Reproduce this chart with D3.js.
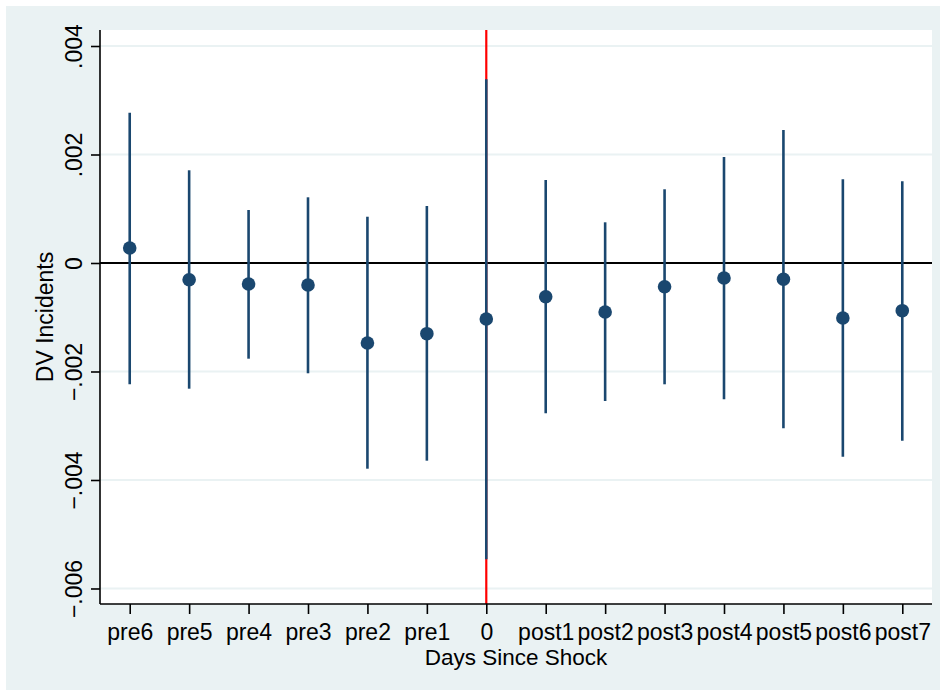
<!DOCTYPE html>
<html>
<head>
  <meta charset="UTF-8">
  <title>DV Incidents - Days Since Shock</title>
  <script src="https://d3js.org/d3.v7.min.js"></script>
  <style>
    body { margin: 0; background: #ffffff; }
    text { font-family: "Liberation Sans", Arial, sans-serif; fill: #000; }
  </style>
</head>
<body>
  <div id="chart"></div>
  <script>

    // Data (values in raw units)
    const days  = ["pre6","pre5","pre4","pre3","pre2","pre1","0",
                   "post1","post2","post3","post4","post5","post6","post7"];
    const coef  = [ 0.000276,-0.000308,-0.000387,-0.000406,-0.001475,-0.001303,-0.001032,
                   -0.000621,-0.000903,-0.000437,-0.000276,-0.000300,-0.001014,-0.000879];
    const upper = [ 0.002770, 0.001709, 0.000977, 0.001211, 0.000853, 0.001051, 0.003386,
                    0.001530, 0.000750, 0.001359, 0.001954, 0.002452, 0.001543, 0.001506];
    const lower = [-0.002236,-0.002317,-0.001764,-0.002033,-0.003792,-0.003644,-0.005462,
                   -0.002770,-0.002544,-0.002236,-0.002512,-0.003047,-0.003571,-0.003276];
    const yTicks = [0.004, 0.002, 0, -0.002, -0.004, -0.006];
    const shockDay = "0";

    const W = 945, H = 695;
    const plot = {left: 100, right: 932, top: 30, bottom: 604};
    const navy = "#1a476f", grid = "#eaf2f3";

    const svg = d3.select("#chart").append("svg")
          .attr("width", W).attr("height", H);

    // outer graph region + white plot region
    svg.append("rect").attr("x", 6).attr("y", 6).attr("width", 934).attr("height", 684)
       .attr("fill", grid);
    svg.append("rect").attr("x", plot.left).attr("y", plot.top)
       .attr("width", plot.right - plot.left).attr("height", plot.bottom - plot.top)
       .attr("fill", "#fff");

    const x = d3.scalePoint().domain(days).range([plot.left, plot.right]).padding(0.5);
    const y = d3.scaleLinear().domain([-0.006286, 0.004295]).range([plot.bottom, plot.top]);

    // Stata style labels: .004, -.002, 0
    const fmt = v => v === 0 ? "0" : d3.format(".3f")(v).replace("0.", ".");

    // gridlines
    svg.append("g").selectAll("line")
       .data(yTicks.filter(v => v !== 0))
       .join("line")
       .attr("x1", plot.left).attr("x2", plot.right)
       .attr("y1", d => y(d)).attr("y2", d => y(d))
       .attr("stroke", grid).attr("stroke-width", 2);

    // zero line
    svg.append("line")
       .attr("x1", plot.left).attr("x2", plot.right)
       .attr("y1", y(0)).attr("y2", y(0))
       .attr("stroke", "#000").attr("stroke-width", 2);

    // shock line
    svg.append("line")
       .attr("x1", x(shockDay)).attr("x2", x(shockDay))
       .attr("y1", plot.top).attr("y2", plot.bottom)
       .attr("stroke", "#ff0000").attr("stroke-width", 2.2);

    const rows = days.map((d, i) => ({day: d, b: coef[i], lo: lower[i], hi: upper[i]}));

    // confidence intervals
    svg.append("g").selectAll("line")
       .data(rows)
       .join("line")
       .attr("x1", d => x(d.day)).attr("x2", d => x(d.day))
       .attr("y1", d => y(d.hi)).attr("y2", d => y(d.lo))
       .attr("stroke", navy).attr("stroke-width", 2.6);

    // point estimates
    svg.append("g").selectAll("circle")
       .data(rows)
       .join("circle")
       .attr("cx", d => x(d.day)).attr("cy", d => y(d.b))
       .attr("r", 6.8).attr("fill", navy);

    // Y axis
    const gy = svg.append("g")
          .attr("transform", `translate(${plot.left},0)`)
          .call(d3.axisLeft(y).tickValues(yTicks).tickFormat(fmt).tickSize(9).tickSizeOuter(0));
    gy.select(".domain").attr("stroke-width", 1.6).attr("d", `M0,${plot.top}V${plot.bottom}`);
    gy.selectAll(".tick line").attr("stroke-width", 1.6);
    gy.selectAll(".tick text")
      .attr("transform", "rotate(-90)")
      .attr("x", 0).attr("y", -18).attr("dy", 0)
      .style("text-anchor", "middle")
      .style("font-size", "23px")
      .style("font-family", "'Liberation Sans', Arial, sans-serif");

    // X axis
    const gx = svg.append("g")
          .attr("transform", `translate(0,${plot.bottom})`)
          .call(d3.axisBottom(x).tickSize(10).tickSizeOuter(0));
    gx.select(".domain").attr("stroke-width", 1.6).attr("d", `M${plot.left},0H${plot.right}`);
    gx.selectAll(".tick line").attr("stroke-width", 1.6);
    gx.selectAll(".tick text")
      .attr("y", 36).attr("dy", 0)
      .style("font-size", "23px")
      .style("font-family", "'Liberation Sans', Arial, sans-serif");

    // axis titles
    svg.append("text")
       .attr("transform", `translate(53,${(plot.top + plot.bottom) / 2}) rotate(-90)`)
       .attr("text-anchor", "middle")
       .style("font-size", "23px")
       .text("DV Incidents");

    svg.append("text")
       .attr("x", (plot.left + plot.right) / 2).attr("y", 665)
       .attr("text-anchor", "middle")
       .style("font-size", "22.5px")
       .text("Days Since Shock");

  </script>
</body>
</html>
